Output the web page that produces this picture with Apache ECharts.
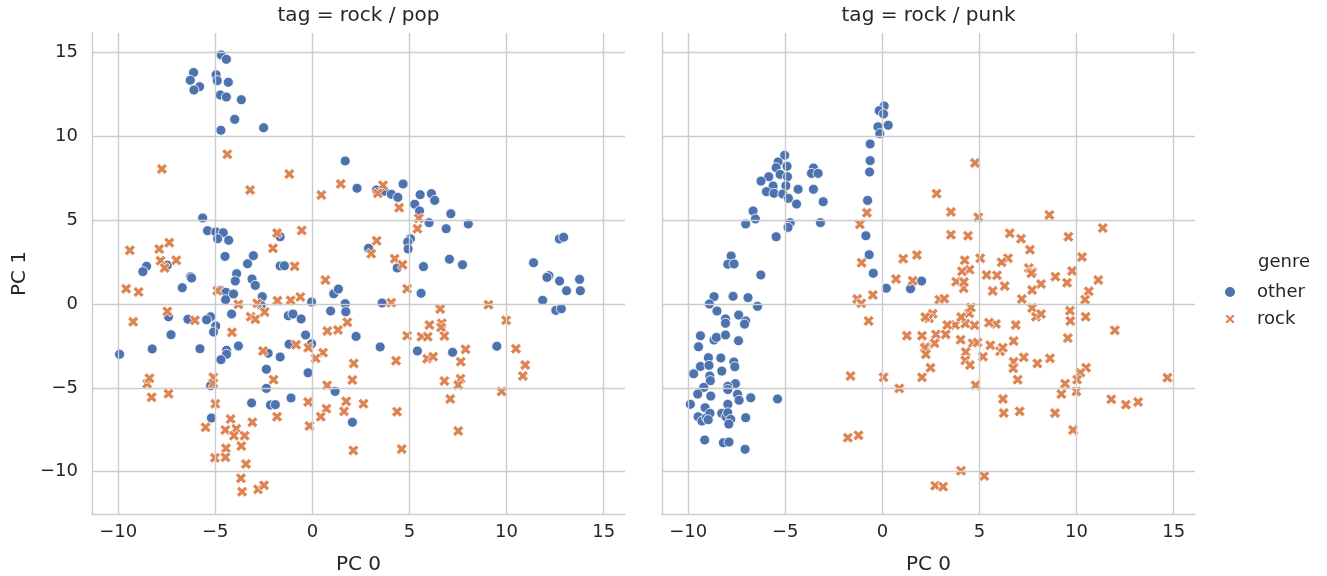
<!DOCTYPE html>
<html>
<head>
<meta charset="utf-8">
<script src="https://cdn.jsdelivr.net/npm/echarts@6/dist/echarts.min.js"></script>
<style>
html,body{margin:0;padding:0;background:#fff;}
#chart{width:1327px;height:576px;}
</style>
</head>
<body>
<div id="chart"></div>
<script>
// ---- data ----
var panelTitles = ['tag = rock / pop', 'tag = rock / punk'];
var genres = ['other', 'rock'];
var xTicks = [-10, -5, 0, 5, 10, 15];
var yTicks = [-10, -5, 0, 5, 10, 15];

var popOther = [
[-4.69,14.85],[-4.43,14.59],[-6.12,13.8],[-6.29,13.34],[-5.81,12.96],[-6.10,12.76],[-4.96,13.67],[-4.90,13.32],[-4.33,13.22],[-4.74,12.46],[-4.43,12.34],[-3.66,12.18],[-4.0,11.01],[-4.71,10.36],[-2.51,10.51],[1.69,8.53],[2.30,6.9],
[-5.65,5.13],[-5.40,4.37],[-4.98,4.3],[-4.59,4.25],[-4.88,3.89],[-4.31,3.80],[-1.66,4.01],[-4.5,2.84],[-3.04,2.88],[-3.34,2.40],[-1.66,2.27],[-1.44,2.28],[-8.54,2.25],[-8.73,1.93],[-7.47,2.31],[-3.90,1.81],[-6.27,1.63],
[3.30,6.8],[3.71,6.72],[4.07,6.54],[4.40,6.36],[4.67,7.16],[5.55,6.52],[6.13,6.58],[6.30,6.18],[5.27,5.95],[5.52,5.55],[7.13,5.38],[6.01,4.85],[6.89,4.49],[8.03,4.77],[5.05,3.89],[4.91,3.70],[4.93,3.28],[2.89,3.32],[4.37,2.15],[5.72,2.23],[7.06,2.67],[7.73,2.34],[11.39,2.46],[12.72,3.88],[12.94,3.98],[12.18,1.69],
[-6.22,1.55],[-6.70,0.97],[-3.97,1.37],[-3.11,1.49],[-2.94,1.11],[-4.74,0.82],[-4.45,0.70],[-4.06,0.60],[-4.47,0.26],[-2.58,0.44],[-2.64,-0.08],[-0.04,0.12],[1.10,0.61],[1.34,0.89],[1.69,0.02],[1.72,-0.46],[0.94,-0.42],[2.25,-1.93],[-1.24,-0.70],[-1.0,-0.6],[-0.58,-0.89],[-4.16,-0.60],[-5.24,-0.76],[-5.45,-0.94],[-4.98,-1.31],[-5.09,-1.67],[-6.41,-0.91],[-7.41,-0.76],[-7.28,-1.83],[-0.35,-1.85],[-0.04,-2.37],[-1.2,-2.4],[-2.28,-2.94],[-1.66,-3.16],[-2.37,-3.89],[-0.22,-4.1],[-2.37,-5.03],[-1.1,-5.6],[-3.13,-5.9],[-2.16,-6.02],[-1.91,-6.0],[1.17,-5.21],[2.06,-7.05],[-3.81,-2.50],[-4.42,-2.76],[-4.42,-3.0],[-4.71,-3.32],[-5.79,-2.67],[-8.25,-2.68],[-9.93,-3.0],[-5.24,-4.87],[-5.2,-6.8],
[5.6,0.64],[3.59,0.06],[3.49,-2.56],[5.41,-2.8],[7.22,-2.88],[9.5,-2.52],[12.08,1.59],[12.73,1.37],[13.76,1.47],[13.09,0.79],[13.80,0.79],[11.86,0.22],[12.54,-0.38],[12.82,-0.28]
];

var popRock = [
[-4.38,8.93],[-7.75,8.05],[-1.19,7.75],[-3.21,6.8],[0.46,6.5],[1.46,7.16],[-0.55,4.39],[-1.82,4.23],[-2.03,3.32],[-0.91,2.25],[-9.40,3.2],[-7.89,3.28],[-7.37,3.66],[-7.82,2.58],[-7.01,2.61],[-7.61,2.15],
[3.64,7.08],[3.37,6.6],[4.47,5.74],[5.48,5.11],[5.41,4.49],[3.31,3.77],[3.03,3.0],[4.24,2.70],[4.64,2.34],
[-9.59,0.91],[-8.95,0.72],[-9.23,-1.06],[-7.47,-0.44],[-6.05,-0.97],[-4.90,0.79],[-3.81,-0.02],[-4.14,-1.69],[-3.18,-0.76],[-2.94,-0.91],[-2.46,-0.48],[-1.80,0.20],[-1.12,0.22],[-0.62,0.42],[-2.84,0.04],[0.67,1.43],[1.80,-1.09],[1.32,-1.55],[0.77,-1.61],[-2.54,-2.8],[-0.84,-2.43],[-0.21,-2.6],[0.55,-2.9],[0.17,-3.24],[2.13,-3.54],[2.06,-4.53],[0.76,-4.85],[-2.0,-4.51],[-0.22,-5.84],[1.74,-5.8],[0.72,-6.24],[0.43,-6.72],[1.63,-6.40],[-1.82,-6.72],[-3.09,-7.05],[-0.15,-7.27],[2.11,-8.73],[-8.51,-4.75],[-8.39,-4.43],[-8.28,-5.56],[-7.41,-5.35],[-5.1,-4.37],[-5.1,-4.73],[-5.0,-5.95],[-5.5,-7.35],[-4.21,-6.86],[-4.48,-7.51],[-3.92,-7.44],[-4.04,-7.85],[-3.49,-7.85],[-3.66,-8.47],[-4.45,-8.6],[-5.02,-9.17],[-4.48,-9.14],[-3.42,-9.54],[-3.68,-10.39],[-3.62,-11.19],[-2.8,-11.05],[-2.49,-10.81],
[4.88,0.91],[4.06,0.08],[6.58,-0.3],[9.07,-0.04],[9.98,-0.97],[6.03,-1.25],[6.66,-1.15],[6.63,-1.39],[4.88,-1.89],[5.62,-1.95],[5.94,-1.95],[6.80,-1.91],[7.89,-2.7],[7.64,-3.44],[5.91,-3.26],[6.22,-3.14],[4.31,-3.38],[10.48,-2.67],[10.96,-3.64],[10.84,-4.29],[6.80,-4.59],[7.63,-4.45],[7.51,-4.83],[9.74,-5.21],[7.10,-5.66],[2.63,-5.95],[4.36,-6.42],[7.51,-7.57],[4.60,-8.65]
];

var punkOther = [
[0.09,11.81],[-0.16,11.53],[0.06,11.33],[0.30,10.66],[-0.23,10.57],[-0.13,10.16],[-0.63,9.54],[-0.63,8.55],[-0.66,7.87],[-0.76,6.18],[-0.85,4.07],[-0.68,2.94],[-0.47,1.83],[-5.03,8.87],[-5.37,8.47],[-4.91,8.21],[-5.47,8.13],[-5.27,7.73],[-4.89,7.59],[-5.85,7.59],[-6.25,7.33],[-5.63,7.04],[-4.97,7.05],[-5.97,6.7],[-5.58,6.6],[-5.13,6.56],[-4.84,6.30],[-4.34,6.84],[-4.42,5.96],[-3.55,8.11],[-3.65,7.79],[-3.31,7.79],[-3.55,6.84],[-3.05,6.1],[-3.19,4.85],[-6.66,5.55],[-6.54,5.07],[-7.04,4.77],[-4.75,4.85],[-4.86,4.57],[-5.47,4.01],[-7.79,2.86],[-7.96,2.37],[-7.64,2.39],[-6.26,1.73],
[-8.67,0.44],[-7.69,0.46],[-6.92,0.38],[-8.91,0.0],[-6.43,-0.14],[-8.52,-0.42],[-7.40,-0.66],[-7.04,-1.01],[-8.08,-0.89],[-8.08,-1.15],[-7.1,-1.2],[-9.37,-1.89],[-8.67,-2.15],[-8.55,-1.99],[-8.08,-1.85],[-7.41,-2.19],[-9.47,-2.55],[-8.96,-3.2],[-8.32,-3.22],[-9.37,-3.72],[-8.93,-3.66],[-7.65,-3.46],[-7.6,-3.74],[-8.27,-4.0],[-9.72,-4.16],[-8.89,-4.29],[-8.86,-4.57],[-7.57,-4.75],[-7.96,-4.91],[-7.96,-5.1],[-9.2,-4.97],[-9.51,-5.37],[-8.84,-5.49],[-7.46,-5.38],[-7.38,-5.74],[-6.78,-5.59],[-5.4,-5.66],[-9.89,-5.98],[-9.13,-6.18],[-7.96,-5.98],[-9.49,-6.72],[-9.29,-6.98],[-9.06,-6.78],[-8.88,-6.52],[-8.97,-6.9],[-8.27,-6.52],[-8.05,-6.72],[-7.96,-6.48],[-7.81,-6.88],[-7.91,-7.16],[-7.04,-6.78],[-9.15,-8.11],[-8.19,-8.27],[-7.9,-8.23],[-7.07,-8.66],[0.2,0.94],[1.45,0.91],[2.02,1.37]
];

var punkRock = [
[-0.8,5.44],[-1.16,4.75],[-1.07,2.46],[1.07,2.70],[1.78,2.92],
[4.77,8.41],[2.79,6.58],[3.53,5.49],[4.94,5.17],[8.6,5.31],[11.35,4.53],[3.53,4.13],[4.41,4.07],[6.56,4.22],[7.14,3.89],[9.58,4.01],[7.6,3.24],[4.24,2.61],[5.04,2.73],[6.47,2.73],[6.14,2.49],[10.28,2.80],[4.49,2.05],[4.1,1.95],[7.54,2.15],[7.71,1.91],[9.77,1.97],[5.37,1.73],[5.9,1.71],[8.91,1.63],
[7.67,1.83],[9.51,1.27],[11.12,1.43],[10.63,0.76],[10.44,0.26],[8.17,1.19],[7.71,0.83],[7.18,0.30],[6.3,1.07],[5.68,0.78],[3.8,1.33],[4.19,0.94],[4.2,1.31],[2.93,0.26],[3.19,0.32],[7.71,-0.24],[7.91,-0.76],[8.17,-0.6],[9.66,-0.4],[9.68,-1.01],[10.47,-0.76],[11.97,-1.57],[9.55,-2.03],[6.87,-1.25],[6.76,-2.21],[5.85,-1.19],[5.49,-1.11],[4.75,-1.27],[4.27,-1.17],[3.75,-1.25],[3.34,-1.25],[4.47,-0.55],[4.06,-0.78],[4.56,-0.2],[2.59,-0.58],[2.4,-0.85],[2.76,-1.81],[3.26,-1.81],[2.69,-2.34],[4.03,-2.13],[4.65,-2.34],[4.9,-2.3],[5.56,-2.46],[6.06,-2.82],[6.2,-2.6],[4.29,-2.86],[5.18,-3.14],[4.27,-3.36],[4.51,-3.64],[6.76,-3.44],[7.28,-3.18],[6.74,-3.83],[7.98,-3.54],[8.63,-3.24],[6.97,-4.51],[10.49,-3.80],[10.2,-4.1],[10.03,-4.51],[9.41,-4.75],[9.99,-5.21],[9.22,-5.37],[2.48,-3.8],[2.24,-2.56],[4.8,-4.85],[6.21,-5.66],[6.25,-6.5],[7.07,-6.40],[8.89,-6.5],[9.82,-7.51],[11.79,-5.68],[12.54,-6.0],[13.17,-5.84],[14.68,-4.39],[4.05,-9.94],[5.25,-10.26],[2.72,-10.83],[3.13,-10.89],
[0.7,1.49],[1.56,1.39],[-0.49,0.54],[-1.3,0.30],[-1.09,0.04],[-0.71,-1.01],[1.26,-1.89],[2.04,-1.89],[2.21,-0.78],[2.18,-2.61],[2.24,-3.0],[-1.64,-4.29],[0.06,-4.37],[2.04,-4.37],[0.87,-5.03],[-1.78,-7.97],[-1.23,-7.83]
];

// ---- styling ----
var FONT = 'DejaVu Sans';
var TXT = '#262626';
var GRIDC = '#cccccc';
var BLUE = '#4C72B0';
var ORANGE = '#DD8452';
var XPATH = 'path://M2,-4 L4,-2 L2,0 L4,2 L2,4 L0,2 L-2,4 L-4,2 L-2,0 L-4,-2 L-2,-4 L0,-2 Z';
var XMIN = -11.35, XMAX = 16.1, YMIN = -12.52, YMAX = 16.16;

function fmt(v) {
  if (Math.abs(v - Math.round(v / 5) * 5) > 1e-6) return '';
  return v < 0 ? '\u2212' + (-v) : String(v);
}

var grids = [
  {left: 92, top: 33, width: 533, height: 481, containLabel: false, outerBoundsMode: 'none'},
  {left: 662, top: 33, width: 533, height: 481, containLabel: false, outerBoundsMode: 'none'}
];

var xAxes = [0, 1].map(function (i) {
  return {
    type: 'value', gridIndex: i, min: XMIN, max: XMAX,
    name: 'PC 0', nameLocation: 'middle', nameGap: 41,
    nameTextStyle: {fontFamily: FONT, fontSize: 20, color: TXT},
    axisLine: {show: true, onZero: false, lineStyle: {color: GRIDC, width: 1.4}},
    axisTick: {show: false},
    splitLine: {show: false},
    axisLabel: {show: true, margin: 9, fontFamily: FONT, fontSize: 18, color: TXT,
      formatter: fmt, showMinLabel: false, showMaxLabel: false}
  };
});
var yAxes = [0, 1].map(function (i) {
  return {
    type: 'value', gridIndex: i, min: YMIN, max: YMAX,
    name: i === 0 ? 'PC 1' : '', nameLocation: 'middle', nameGap: 62,
    nameTextStyle: {fontFamily: FONT, fontSize: 20, color: TXT},
    axisLine: {show: true, onZero: false, lineStyle: {color: GRIDC, width: 1.4}},
    axisTick: {show: false},
    splitLine: {show: false},
    axisLabel: {show: i === 0, margin: 14, fontFamily: FONT, fontSize: 18, color: TXT,
      formatter: fmt, showMinLabel: false, showMaxLabel: false}
  };
});

function gridLines(i) {
  var d = [];
  xTicks.forEach(function (t) { d.push({xAxis: t}); });
  yTicks.forEach(function (t) { d.push({yAxis: t}); });
  return {
    type: 'scatter', xAxisIndex: i, yAxisIndex: i, data: [], z: 1, silent: true,
    markLine: {silent: true, symbol: ['none', 'none'], animation: false,
      label: {show: false}, lineStyle: {color: GRIDC, width: 1.4, type: 'solid', opacity: 1},
      emphasis: {disabled: true}, data: d}
  };
}

function pts(i, name, data) {
  var isRock = name === 'rock';
  return {
    type: 'scatter', name: name, xAxisIndex: i, yAxisIndex: i, data: data, z: 3,
    symbol: isRock ? XPATH : 'circle', symbolSize: isRock ? 11 : 10,
    itemStyle: {color: isRock ? ORANGE : BLUE, borderColor: '#ffffff', borderWidth: 0.8, opacity: 1},
    emphasis: {disabled: true}, animation: false
  };
}

var option = {
  backgroundColor: '#ffffff',
  animation: false,
  grid: grids,
  xAxis: xAxes,
  yAxis: yAxes,
  legend: {
    orient: 'vertical', left: 1218, top: 278, itemWidth: 12, itemHeight: 12, itemGap: 9,
    textStyle: {fontFamily: FONT, fontSize: 18, color: TXT, padding: [0, 0, 0, 16]},
    data: [{name: genres[0], icon: 'circle'}, {name: genres[1], icon: XPATH}],
    selectedMode: false
  },
  graphic: [
    {type: 'text', x: 358.5, y: 16, style: {text: panelTitles[0], fontFamily: FONT, fontSize: 20, fill: TXT, textAlign: 'center', textVerticalAlign: 'middle'}},
    {type: 'text', x: 928.5, y: 16, style: {text: panelTitles[1], fontFamily: FONT, fontSize: 20, fill: TXT, textAlign: 'center', textVerticalAlign: 'middle'}},
    {type: 'text', x: 1258, y: 262, style: {text: 'genre', fontFamily: FONT, fontSize: 18, fill: TXT, textAlign: 'left', textVerticalAlign: 'middle'}}
  ],
  series: [
    gridLines(0), gridLines(1),
    pts(0, genres[0], popOther), pts(0, genres[1], popRock),
    pts(1, genres[0], punkOther), pts(1, genres[1], punkRock)
  ]
};

var chart = echarts.init(document.getElementById('chart'), null, {renderer: 'canvas'});
chart.setOption(option);
</script>
</body>
</html>
